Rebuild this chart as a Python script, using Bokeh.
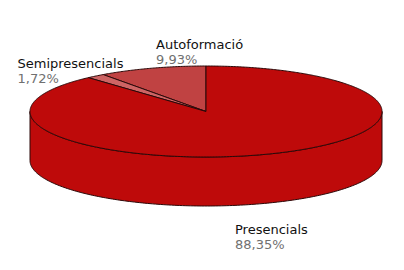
import numpy as np
from bokeh.plotting import figure
from bokeh.models import Range1d, ColumnDataSource
from bokeh.core.properties import value
from bokeh.embed import file_html
from bokeh.resources import INLINE

categories = ["Autoformació", "Semipresencials", "Presencials"]
shares = [9.93, 1.72, 88.35]
share_labels = ["9,93%", "1,72%", "88,35%"]
colors = ["#C04242", "#CE6464", "#BE0A0A"]

W, H = 404, 270
cx, cy, rx, ry, depth = 205.5, 111.0, 176.0, 45.5, 49.0
outline = "#2a0808"

p = figure(width=W, height=H, output_backend="svg", toolbar_location=None,
           x_range=Range1d(0, W), y_range=Range1d(H, 0), min_border=0)
p.axis.visible = False
p.grid.visible = False
p.outline_line_color = None
p.background_fill_color = "white"
p.border_fill_color = "white"

def pt(theta_deg, dy=0.0):
    t = np.radians(theta_deg)
    return cx - rx * np.sin(t), cy - ry * np.cos(t) + dy

# angles: from 12 o'clock, counterclockwise
fr = np.array(shares) / sum(shares)
ends = np.cumsum(fr) * 360.0
starts = np.concatenate([[0.0], ends[:-1]])

# side wall (front half, visible) – belongs to last slice (covers 90..270)
th = np.linspace(90, 270, 200)
xs_top, ys_top = pt(th)
xs_bot, ys_bot = pt(th[::-1], depth)
p.patch(np.concatenate([xs_top, xs_bot]), np.concatenate([ys_top, ys_bot]),
        fill_color=colors[2], line_color=outline, line_width=1)

# top face slices
xs_l, ys_l = [], []
for s, e in zip(starts, ends):
    th = np.linspace(s, e, max(int(e - s) * 2, 4))
    x, y = pt(th)
    xs_l.append(np.concatenate([[cx], x]).tolist())
    ys_l.append(np.concatenate([[cy], y]).tolist())
p.patches(xs_l, ys_l, fill_color=colors, line_color=outline, line_width=1,
          line_join="round")

# labels
lab_x = [155.5, 17.0, 234.5]
lab_y = [43.5, 62.5, 228.5]
src = ColumnDataSource(dict(x=lab_x, y=lab_y, name=categories,
                            y2=[v + 15 for v in lab_y], pct=share_labels))
p.text(x="x", y="y", text="name", source=src, text_font=value("DejaVu Sans"),
       text_font_size="13px", text_color="#111111", text_baseline="alphabetic",
       text_align="left")
p.text(x="x", y="y2", text="pct", source=src, text_font=value("DejaVu Sans"),
       text_font_size="13px", text_color="#707070", text_baseline="alphabetic",
       text_align="left")

open("out.html", "w").write(file_html(p, INLINE))
